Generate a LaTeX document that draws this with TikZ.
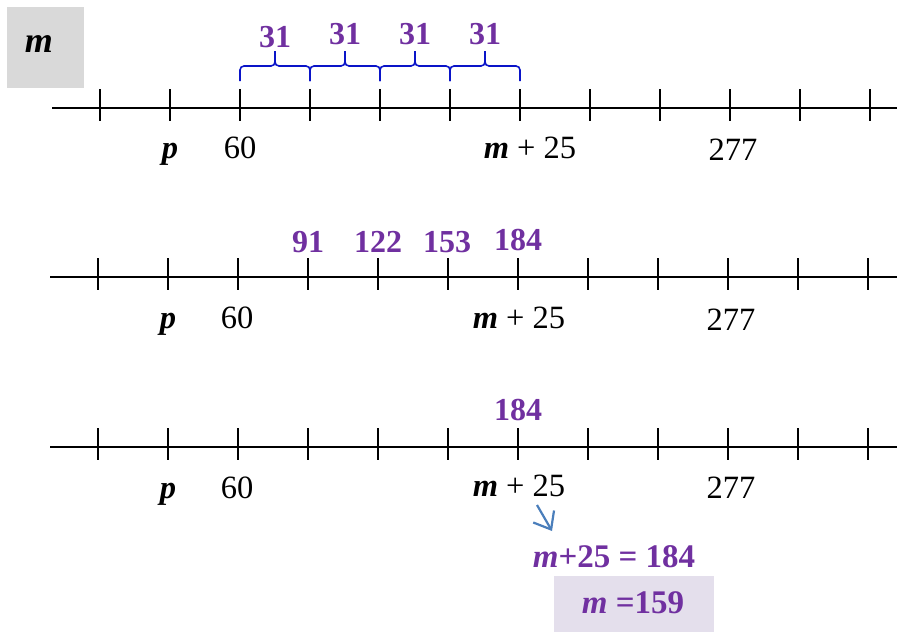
\documentclass[tikz,border=0pt]{standalone}
\usepackage{fontspec}
\setmainfont{Liberation Serif}
\usepackage{xcolor}
\usepackage{tikz}
\usetikzlibrary{arrows.meta,calc}
\definecolor{numpurple}{HTML}{7030A0}
\definecolor{braceblue}{HTML}{0A14C8}
\definecolor{arrowblue}{HTML}{4A7EBB}
\definecolor{boxgray}{HTML}{D9D9D9}
\definecolor{boxlilac}{HTML}{E4DFEC}

\begin{document}
\begin{tikzpicture}[x=1pt, y=-1pt, font=\fontsize{32.5}{38}\selectfont,
  lbl/.style={anchor=base, inner sep=0pt},
  num/.style={lbl, text=numpurple, font=\fontsize{32}{38}\selectfont\bfseries},
  axis/.style={line width=2pt},
  tickmark/.style={line width=2pt},
  brc/.style={draw=braceblue, line width=1.6pt, rounded corners=4pt}]
\useasboundingbox (0,0) rectangle (897,632);

% three number lines
\foreach \r/\y/\x in {1/108/100, 2/277/98, 3/447/98} {
  \draw[axis] (\x-48,\y) -- (897,\y);
  \foreach \i in {0,...,11} {
    \coordinate (t\r-\i) at (\x+70*\i,\y);
    \draw[tickmark] (\x+70*\i,\y-19) -- (\x+70*\i,\y+13);
  }
}

\node[fill=boxgray, minimum width=77pt, minimum height=81pt, inner sep=0pt] (key) at (45.5,47.5) {};
\node[font=\fontsize{36}{40}\selectfont, inner sep=0pt, anchor=base] (keym) at (39,52) {\textbf{\textit{m}}};

% row 1: braces
\foreach \i/\h in {2/47, 3/44, 4/44, 5/44} {
  \pgfmathtruncatemacro{\j}{\i+1}
  \draw[brc] ($(t1-\i)+(0,-27)$) -- ($(t1-\i)+(0,-42)$) -- ($(t1-\i)+(35,-42)$) -- ($(t1-\i)+(35,-57)$);
  \draw[brc] ($(t1-\j)+(0,-27)$) -- ($(t1-\j)+(0,-42)$) -- ($(t1-\i)+(35,-42)$) -- ($(t1-\i)+(35,-57)$);
  \node[num] (w\i) at ($(t1-\i)+(35,\h-108)$) {31};
}
\node[lbl] (p1) at (170,158) {\textbf{\textit{p}}};
\node[lbl] (s1) at (240,158) {60};
\node[lbl] (e1) at (530,158) {\textbf{\textit{m}} + 25};
\node[lbl] (f1) at (733,160) {277};

% row 2
\node[num] (n91) at (308,252) {91};
\node[num] (n122) at (378,252) {122};
\node[num] (n153) at (447,252) {153};
\node[num] (n184a) at (518,250) {184};
\node[lbl] (p2) at (168,328) {\textbf{\textit{p}}};
\node[lbl] (s2) at (237,328) {60};
\node[lbl] (e2) at (519,328) {\textbf{\textit{m}} + 25};
\node[lbl] (f2) at (731,330) {277};

% row 3
\node[num] (n184b) at (518,420) {184};
\node[lbl] (p3) at (168,498) {\textbf{\textit{p}}};
\node[lbl] (s3) at (237,498) {60};
\node[lbl] (e3) at (519,496) {\textbf{\textit{m}} + 25};
\node[lbl] (f3) at (731,498) {277};

\coordinate (a1) at (537,505);
\coordinate (a2) at (552,531);
\draw[arrowblue, line width=2.2pt, -{Straight Barb[length=15pt, width=24pt]}] (a1) -- (a2);

\node[num, font=\fontsize{33}{38}\selectfont\bfseries] (eq) at (614,567) {\textit{m}+25 = 184};
\node[fill=boxlilac, minimum width=160pt, minimum height=56pt, inner sep=0pt] (res) at (634,604) {};
\node[num, font=\fontsize{33}{38}\selectfont\bfseries] (ans) at (633,613) {\textit{m} =159};
\end{tikzpicture}
\end{document}
